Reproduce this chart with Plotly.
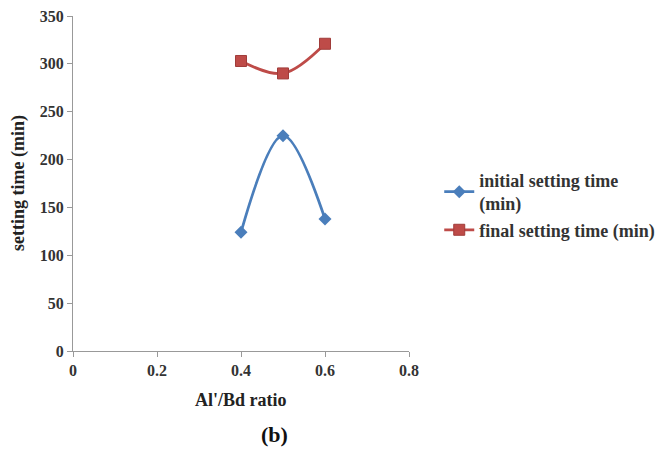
import plotly.graph_objects as go

ratio = [0.4, 0.5, 0.6]
initial_time = [124, 225, 138]
final_time = [303, 290, 321]
x_ticks = [0, 0.2, 0.4, 0.6, 0.8]
y_ticks = [0, 50, 100, 150, 200, 250, 300, 350]

font_family = "Liberation Serif"
fig = go.Figure()
fig.add_trace(go.Scatter(
    x=ratio, y=initial_time, mode="lines+markers", name="<b>initial setting time<br>(min)</b>",
    line=dict(color="#4a7ebb", width=2.8, shape="spline"),
    marker=dict(symbol="diamond", size=10, color="#4a7ebb")))
fig.add_trace(go.Scatter(
    x=ratio, y=final_time, mode="lines+markers", name="<b>final setting time (min)</b>",
    line=dict(color="#be4b48", width=2.8, shape="spline"),
    marker=dict(symbol="square", size=11, color="#be4b48", line=dict(color="#a03c3a", width=1))))

# page body has an 8px default margin; compensate so the plot area sits where the reference has it
fig.update_layout(
    width=671, height=456,
    margin=dict(l=65, r=270, t=8, b=113, autoexpand=False),
    paper_bgcolor="white", plot_bgcolor="white",
    font=dict(family=font_family, size=14, color="#222"),
    legend=dict(x=1.09, y=0.435, xanchor="left", yanchor="middle",
                font=dict(family=font_family, size=18, color="#333"),
                tracegroupgap=5),
    xaxis=dict(range=[0, 0.8], tickvals=x_ticks, ticktext=[f"<b>{v:g}</b>" for v in x_ticks],
               showgrid=False, zeroline=False, showline=True, linecolor="#999", linewidth=1,
               ticks="outside", ticklen=5, tickcolor="#999", automargin=False,
               ticklabeloverflow="allow",
               tickfont=dict(family=font_family, size=16, color="#333")),
    yaxis=dict(range=[0, 350], tickvals=y_ticks, ticktext=[f"<b>{v}</b>" for v in y_ticks],
               showgrid=False, zeroline=False, showline=True, linecolor="#999", linewidth=1,
               ticks="outside", ticklen=5, tickcolor="#999", automargin=False,
               ticklabeloverflow="allow",
               tickfont=dict(family=font_family, size=16, color="#333")),
    annotations=[
        dict(text="<b>setting time (min)</b>", x=-0.162, xref="paper", y=0.5, yref="paper",
             showarrow=False, textangle=-90, xanchor="center", yanchor="middle",
             font=dict(family=font_family, size=18, color="#222")),
        dict(text="<b>Al'/Bd ratio</b>", x=0.5, xref="paper", y=-0.146, yref="paper",
             showarrow=False, xanchor="center", yanchor="middle",
             font=dict(family=font_family, size=18, color="#222")),
        dict(text="<b>(b)</b>", x=0.6, xref="paper", y=-0.205, yref="paper", showarrow=False,
             xanchor="center", yanchor="top", font=dict(family=font_family, size=22, color="#111")),
    ],
    showlegend=True,
)
fig.write_html("out.html")
